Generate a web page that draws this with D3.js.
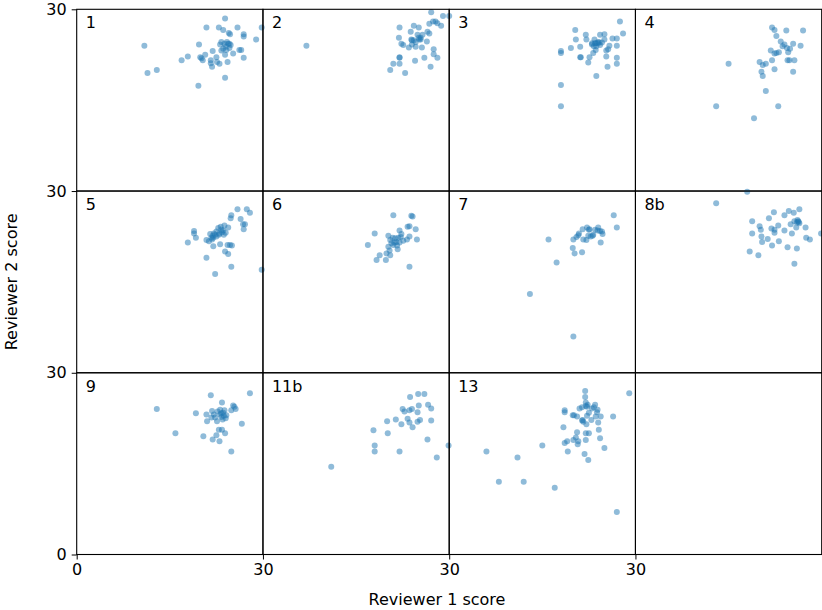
<!DOCTYPE html>
<html>
<head>
<meta charset="utf-8">
<script src="https://d3js.org/d3.v7.min.js"></script>
<style>
  body { margin: 0; background: #fff; }
  text { font-family: 'DejaVu Sans', sans-serif; fill: #000; }
</style>
</head>
<body>
<svg width="822" height="610"></svg>
<script>
// reviewer 1 / reviewer 2 scores, one list of [r1, r2] per panel
var scores1 = [[10.9,24.0],[11.4,19.5],[12.9,20.0],[16.9,21.6],[17.9,22.2],[19.6,17.4],[19.7,24.2],[20.9,27.0],
  [19.9,22.1],[20.1,21.9],[20.3,21.6],[20.7,22.5],[21.6,21.6],[21.6,21.1],[21.8,20.5],[21.9,23.1],[22.5,22.1],
  [22.6,21.3],[22.9,27.0],[23.0,21.0],[23.1,24.2],[23.3,23.2],[23.3,24.6],[23.6,26.6],[23.9,28.5],[23.9,18.7],
  [23.9,22.5],[24.0,23.8],[24.2,24.6],[24.3,21.3],[24.4,24.3],[24.6,23.6],[24.5,26.1],[24.7,25.9],[24.8,24.1],
  [25.2,22.7],[25.9,27.0],[26.2,23.3],[26.5,23.3],[26.9,25.9],[26.9,25.5],[26.9,22.0],[28.9,25.0],[29.8,27.0],
  [23.6,23.5],[24.1,23.3],[23.8,24.3],[24.6,24.3]];
var scores2 = [[7.0,24.0],[20.5,20.0],[21.0,21.0],[22.0,27.0],[21.9,25.3],[22.0,22.0],[22.0,21.0],[22.3,24.3],
  [22.6,24.1],[22.9,19.5],[23.5,23.7],[23.8,26.3],[23.9,25.0],[24.0,24.2],[24.3,27.3],[24.3,24.9],[24.5,21.5],
  [24.6,23.8],[24.9,25.8],[25.1,27.0],[25.2,25.0],[25.4,25.3],[25.6,23.7],[25.7,25.8],[26.0,22.0],[26.4,24.7],
  [26.5,26.3],[26.8,26.0],[26.8,27.6],[27.1,29.5],[27.0,20.5],[27.4,28.0],[27.5,23.4],[27.5,22.6],[27.8,28.0],
  [28.1,22.0],[28.1,27.7],[28.7,27.3],[29.0,28.9],[30.0,28.9],[24.0,24.9],[24.6,24.6],[25.1,25.3],[25.4,25.0],
  [22.0,22.1]];
var scores3 = [[18.0,23.1],[18.0,22.8],[18.0,17.5],[18.0,14.0],[19.6,23.6],[20.3,26.6],[20.4,25.0],[21.1,22.1],
  [21.2,22.1],[21.1,23.8],[22.0,25.8],[22.1,25.0],[22.4,21.2],[22.6,22.1],[23.0,24.4],[23.2,22.8],[23.4,25.0],
  [23.5,24.4],[23.6,23.3],[23.7,23.9],[23.7,19.0],[24.0,24.6],[24.3,25.8],[24.3,24.1],[24.6,24.5],[25.0,25.9],
  [25.0,25.0],[25.3,23.2],[25.3,22.2],[25.5,20.5],[25.6,23.4],[25.8,24.0],[26.3,25.2],[27.0,25.2],[27.0,24.0],
  [27.0,22.0],[27.0,21.0],[27.5,28.0],[28.0,26.0],[23.0,24.2],[23.6,24.4],[23.9,24.4],[24.2,24.5],[23.3,23.9]];
var scores4 = [[13.0,14.0],[15.0,21.0],[19.1,12.0],[20.0,21.3],[20.3,19.7],[20.5,19.0],[20.5,20.8],[21.0,21.0],
  [21.0,16.5],[21.8,23.2],[22.0,27.0],[22.0,21.6],[22.4,26.6],[22.4,20.1],[22.4,22.7],[22.7,22.8],[22.7,25.6],
  [23.1,22.9],[23.0,14.0],[23.4,24.7],[23.7,23.9],[24.0,24.2],[24.3,26.5],[24.4,23.6],[24.5,21.6],[24.6,22.9],
  [24.8,21.6],[24.9,23.5],[25.4,24.3],[25.4,19.7],[25.6,21.6],[26.6,24.0],[27.0,26.5]];
var scores5 = [[17.9,21.5],[18.9,23.4],[18.9,23.0],[19.2,22.3],[20.9,19.0],[20.9,21.9],[21.3,21.7],[21.5,22.9],
  [21.7,22.3],[21.9,22.6],[22.0,20.9],[22.1,23.0],[22.3,16.3],[22.5,23.3],[22.8,23.9],[22.9,22.8],[23.1,21.2],
  [23.2,24.1],[23.4,23.2],[23.6,23.5],[23.8,24.3],[23.9,20.0],[24.0,23.1],[24.3,21.1],[24.4,19.6],[24.4,24.0],
  [24.7,21.1],[24.8,25.5],[24.9,26.0],[24.9,17.5],[25.0,21.0],[25.9,27.0],[26.4,25.4],[26.8,24.5],[26.9,23.7],
  [27.1,24.5],[27.4,27.0],[27.9,26.4],[29.8,17.0],[22.0,22.3],[22.3,22.8],[22.5,22.5],[23.0,23.0],[23.3,23.6],
  [23.7,22.8],[21.8,22.0]];
var scores6 = [[16.9,21.1],[18.0,23.0],[18.3,18.6],[18.8,19.4],[19.8,18.6],[19.9,19.7],[20.2,20.8],[20.2,22.6],
  [20.4,20.2],[20.5,19.4],[20.5,21.9],[20.7,21.4],[20.9,22.3],[21.0,26.0],[21.0,21.1],[21.2,21.5],[21.3,22.2],
  [21.5,21.6],[21.6,21.0],[21.7,20.4],[21.8,22.3],[22.0,23.5],[22.0,21.5],[22.2,22.4],[22.3,22.9],[22.6,21.8],
  [23.2,22.0],[23.3,24.1],[23.6,17.5],[23.6,24.2],[23.6,22.5],[23.9,25.9],[24.1,25.8],[24.6,23.7],[24.8,22.0]];
var scores7 = [[13.0,13.0],[16.0,22.0],[17.3,18.2],[19.9,20.6],[20.0,6.0],[20.0,22.0],[20.2,19.7],[20.5,22.4],
  [20.8,22.7],[20.9,23.0],[21.4,19.9],[21.5,23.7],[21.6,22.0],[22.1,21.9],[22.2,24.0],[22.4,22.6],[22.5,23.6],
  [22.8,22.5],[23.1,22.6],[23.2,22.8],[23.5,23.6],[23.9,23.5],[24.0,24.0],[24.3,23.4],[24.4,21.5],[24.6,23.3],
  [24.7,22.9],[26.5,26.0],[27.0,24.0],[22.6,23.7]];
var scores8b = [[13.0,28.0],[18.0,29.9],[18.4,20.0],[18.8,25.0],[18.8,23.0],[19.8,19.4],[20.0,24.2],[20.2,23.6],
  [20.3,22.5],[20.4,21.6],[21.3,22.1],[21.5,25.5],[21.9,23.8],[22.0,21.0],[22.3,26.5],[22.4,23.1],[22.4,23.6],
  [23.0,24.3],[23.1,21.7],[24.0,26.0],[24.0,23.5],[24.5,20.7],[24.7,26.7],[25.0,24.5],[25.2,23.0],[25.5,26.4],
  [25.6,18.0],[25.6,25.0],[25.9,24.0],[26.0,24.8],[26.2,25.0],[26.0,20.5],[26.4,27.0],[26.4,24.7],[27.4,24.0],
  [27.5,22.3],[28.1,22.0],[29.9,23.0],[26.1,25.2],[26.3,24.9]];
var scores9 = [[12.9,24.0],[15.9,20.0],[19.2,23.3],[20.4,19.5],[20.9,23.1],[21.0,22.0],[21.6,26.3],[21.7,22.6],
  [21.8,23.7],[21.9,19.0],[22.1,23.1],[22.3,22.6],[22.5,19.7],[22.6,22.0],[22.7,23.6],[22.9,20.6],[23.0,18.7],
  [23.1,23.9],[23.1,23.1],[23.3,22.7],[23.4,20.6],[23.4,25.1],[23.5,22.3],[23.6,23.4],[23.8,23.8],[23.9,20.0],
  [24.0,22.5],[24.1,23.0],[24.9,17.0],[24.9,23.8],[25.2,24.6],[25.4,24.4],[25.6,24.0],[26.6,21.6],[27.9,26.6],
  [23.3,23.3],[23.7,22.9]];
var scores11b = [[11.0,14.5],[17.8,20.5],[18.0,18.0],[18.0,17.0],[20.0,22.0],[20.1,20.0],[21.4,22.3],[22.0,17.0],
  [22.3,21.5],[22.5,24.0],[22.8,23.6],[23.3,22.4],[23.6,21.8],[23.6,23.8],[23.7,26.0],[24.0,24.0],[24.1,21.0],
  [24.9,23.5],[24.9,21.9],[25.0,26.5],[25.1,24.6],[25.3,22.2],[26.0,26.5],[26.5,19.0],[26.6,24.7],[27.1,24.1],
  [27.1,22.1],[28.0,16.0],[29.9,18.0]];
var scores13 = [[6.0,17.0],[8.0,12.0],[11.0,16.0],[12.0,12.0],[15.0,18.0],[17.0,11.0],[18.4,21.0],[18.6,18.4],
  [18.6,23.5],[18.6,23.8],[19.0,18.7],[19.1,17.0],[19.9,23.0],[20.0,18.9],[20.1,23.0],[20.4,19.3],[20.6,20.2],
  [20.6,22.8],[20.7,18.2],[20.8,18.7],[21.0,24.1],[21.4,22.1],[21.4,24.3],[21.6,21.9],[21.8,16.6],[21.9,27.0],
  [21.9,26.0],[22.0,25.1],[22.0,18.9],[22.1,21.5],[22.0,20.0],[22.2,24.4],[22.2,22.9],[22.4,15.6],[22.3,24.7],
  [22.5,20.0],[22.5,23.4],[22.9,22.2],[23.0,24.1],[23.3,24.3],[23.5,24.7],[23.6,22.8],[23.8,23.5],[24.0,21.8],
  [23.9,23.9],[24.1,20.6],[24.3,19.2],[24.4,22.8],[25.0,17.6],[26.4,22.8],[27.0,7.0],[29.0,26.6],[21.5,22.2],
  [22.0,24.5]];

var panelNames = ['1', '2', '3', '4', '5', '6', '7', '8b', '9', '11b', '13', ''];
var panelScores = [scores1, scores2, scores3, scores4, scores5, scores6, scores7, scores8b,
                   scores9, scores11b, scores13, []];
var scoreDomain = [0, 30];
var xLabel = 'Reviewer 1 score';
var yLabel = 'Reviewer 2 score';

var svg = d3.select('svg');

var plot = {l: 76.7, t: 9.3, w: 745, h: 545.2};
var nCols = 4, nRows = 3;
var cellW = plot.w / nCols;
var cellH = plot.h / nRows;

panelNames.forEach(function(name, i) {
    var col = i % nCols;
    var row = Math.floor(i / nCols);
    var x0 = plot.l + col * cellW;
    var y0 = plot.t + row * cellH;

    var xScale = d3.scaleLinear().domain(scoreDomain).range([x0, x0 + cellW]);
    var yScale = d3.scaleLinear().domain(scoreDomain).range([y0 + cellH, y0]);

    var g = svg.append('g').attr('class', 'panel');

    g.selectAll('circle')
        .data(panelScores[i])
        .enter()
        .append('circle')
        .attr('cx', function(d) { return xScale(d[0]); })
        .attr('cy', function(d) { return yScale(d[1]); })
        .attr('r', 3)
        .attr('fill', '#1f77b4')
        .attr('fill-opacity', 0.5);

    g.append('rect')
        .attr('x', x0)
        .attr('y', y0)
        .attr('width', cellW)
        .attr('height', cellH)
        .attr('fill', 'none')
        .attr('stroke', '#000')
        .attr('stroke-width', 1.1);

    if (name) {
        g.append('text')
            .attr('x', x0 + 9)
            .attr('y', y0 + 19)
            .style('font-size', '16px')
            .text(name);
    }

    // y ticks on the left column
    if (col == 0) {
        var yTicks = row == nRows - 1 ? [30, 0] : [30];
        var yAx = d3.axisLeft(yScale).tickValues(yTicks).tickSize(5).tickPadding(5).tickFormat(d3.format('d'));
        var ya = svg.append('g').attr('transform', 'translate(' + x0 + ',0)').call(yAx);
        ya.select('.domain').remove();
        ya.selectAll('text').style('font-size', '16px').style('font-family', 'DejaVu Sans');
    }
    // x ticks on the bottom row
    if (row == nRows - 1 && col < nCols - 1) {
        var xTicks = col == 0 ? [0, 30] : [30];
        var xAx = d3.axisBottom(xScale).tickValues(xTicks).tickSize(5).tickPadding(4).tickFormat(d3.format('d'));
        var xa = svg.append('g').attr('transform', 'translate(0,' + (y0 + cellH) + ')').call(xAx);
        xa.select('.domain').remove();
        xa.selectAll('text').style('font-size', '16px').style('font-family', 'DejaVu Sans');
    }
});

svg.append('text')
    .attr('x', 437)
    .attr('y', 605)
    .attr('text-anchor', 'middle')
    .style('font-size', '16px')
    .text(xLabel);

svg.append('text')
    .attr('transform', 'translate(17,' + (plot.t + plot.h / 2) + ') rotate(-90)')
    .attr('text-anchor', 'middle')
    .style('font-size', '16px')
    .text(yLabel);
</script>
</body>
</html>
